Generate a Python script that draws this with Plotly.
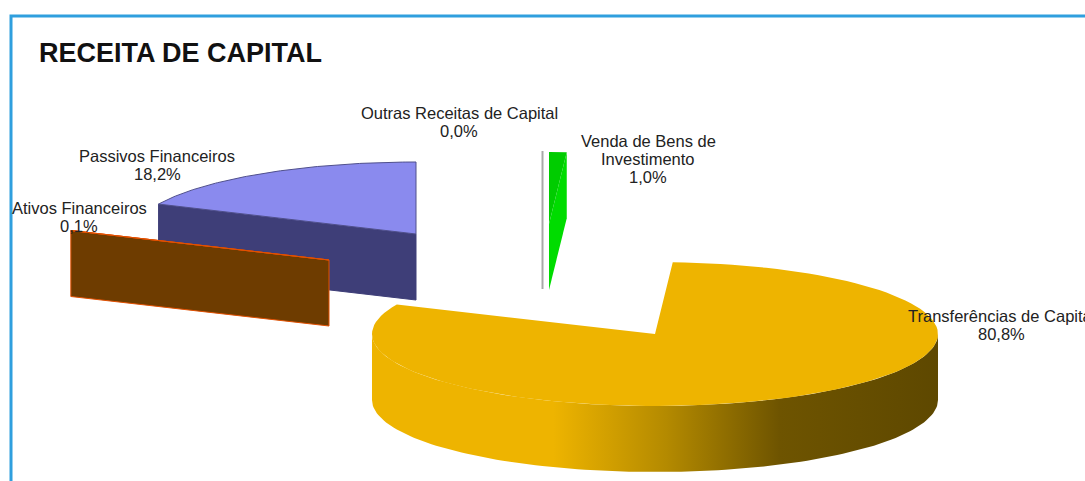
import numpy as np
import plotly.graph_objects as go

# Data (clockwise from 12 o'clock)
categories = ["Outras Receitas de Capital", "Venda de Bens de<br>Investimento",
              "Transferências de Capital", "Ativos Financeiros", "Passivos Financeiros"]
values = [0.0, 1.0, 80.8, 0.1, 18.2]
title_text = "RECEITA DE CAPITAL"

# Projection / style (pixel space of the picture)
RX, RY, DEPTH = 283, 72, 66
centers = [(542.5, 223), (549, 224), (655, 334), (329, 260), (416, 234)]
top_colors = ["#b4b4b4", "#00cc00", "#eeb400", "#6e3c00", "#8a8aee"]
label_pos = [(459, 113), (648, 141), (1001, 316), (79, 208), (157, 156)]
edge_colors = ["#a8a8a8", "#00c800", "#eeb400", "#e25000", "#50508c"]
LINE_PITCH = 18

fig = go.Figure()
total = sum(values)


def arc(c, a0, a1, dz=0, n=120):
    t = np.radians(np.linspace(a0, a1, n))
    return c[0] + RX * np.cos(t), c[1] - RY * np.sin(t) + dz


def poly(x, y, fill, line=None, width=0, grad=None):
    d = dict(x=np.r_[x, x[0]], y=np.r_[y, y[0]], mode="lines", fill="toself",
             fillcolor=fill, hoverinfo="skip", showlegend=False,
             line=dict(color=line or fill, width=width))
    if grad:
        d["fillgradient"] = dict(type="horizontal", colorscale=grad)
    fig.add_trace(go.Scatter(**d))


# slice angle spans from the values
spans = []
a = 90.0
for v in values:
    b = a - v * 360 / total
    spans.append((a, b))
    a = b

wall_grad = [[0, "#eeb400"], [0.32, "#eeb400"], [0.52, "#b48a00"], [0.72, "#6e5400"], [1, "#5e4800"]]
side_colors = {1: "#00dc00", 3: "#6e3c00", 4: "#3e3e78"}

# draw back to front
for i in [4, 3, 0, 1, 2]:
    c = centers[i]
    a0, a1 = spans[i]
    ax, ay = arc(c, a0, a1)
    if i == 2:
        wx, wy = arc(c, 360, 180, 0)
        bx, by = arc(c, 180, 360, DEPTH)
        poly(np.r_[wx, bx], np.r_[wy, by], "#b48a00", grad=wall_grad)
    elif i == 0:
        fig.add_trace(go.Scatter(x=[ax[0], c[0], c[0]], y=[ay[0], c[1], c[1] + DEPTH], mode="lines",
                                 line=dict(color=edge_colors[0], width=2), hoverinfo="skip", showlegend=False))
        continue
    elif i == 1:
        poly([ax[-1], ax[-1], c[0], c[0]], [ay[-1], ay[-1] + DEPTH, c[1] + DEPTH, c[1]], side_colors[1])
    else:
        # cut face from the apex to the far outer corner
        poly([ax[0], c[0], c[0], ax[0]], [ay[0], c[1], c[1] + DEPTH, ay[0] + DEPTH],
             side_colors[i], line=edge_colors[i] if i == 3 else side_colors[i], width=1)
    poly(np.r_[c[0], ax], np.r_[c[1], ay], top_colors[i], line=edge_colors[i], width=1 if i in (3, 4) else 0)

annotations = [dict(text=title_text, x=36.5, y=53, xanchor="left", yanchor="middle", showarrow=False,
                    font=dict(family="Liberation Sans", size=27, color="#111111", weight="bold"))]
for name, v, p in zip(categories, values, label_pos):
    lines = name.split("<br>") + [f"{v:.1f}%".replace(".", ",")]
    for k, line in enumerate(lines):
        annotations.append(dict(text=line, x=p[0], y=p[1] + k * LINE_PITCH, showarrow=False,
                                xanchor="center", yanchor="middle", align="center",
                                font=dict(family="Liberation Sans", size=16.5, color="#222222")))

fig.update_layout(
    width=1085, height=481, margin=dict(l=0, r=0, t=0, b=0),
    paper_bgcolor="white", plot_bgcolor="white", showlegend=False,
    xaxis=dict(range=[0, 1085], visible=False, fixedrange=True),
    yaxis=dict(range=[481, 0], visible=False, fixedrange=True),
    annotations=annotations,
    shapes=[dict(type="path", path="M 11 481 L 11 16 L 1085 16", line=dict(color="#2f9fde", width=3), layer="above")],
)
fig.write_html("out.html", config={"displayModeBar": False},
               post_script="document.body.style.margin='0';document.documentElement.style.overflow='hidden';")
